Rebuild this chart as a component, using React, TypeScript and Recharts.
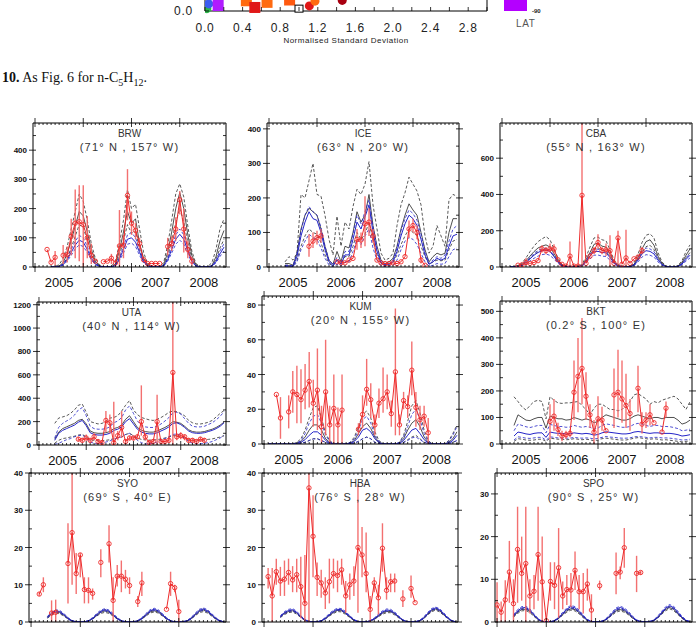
import React from 'react';
import { LineChart, Line, XAxis, YAxis, ErrorBar, ScatterChart, Scatter } from 'recharts';

const _ = null;

// month index 0 = Jan 2005 ... 47 = Dec 2008
const months = Array.from({ length: 48 }, (_v, i) => i);
const years = ['2005', '2006', '2007', '2008'];

// ---------- BRW ----------
const brwBlackHi = [_,_,_,_, 0,2,8,30,70,130,190,250,225,160,80,30, 8,0,0,2,20,80,160,265,200,215,130,50, 12,2,0,2,15,75,160,250,285,240,140,55, 12,2,0,2,15,60,130,165];
const brwBlack = [_,_,_,_, 0,0,3,15,45,90,140,190,175,120,60,20, 5,0,0,0,10,55,120,190,150,165,80,30, 8,0,0,0,8,50,120,200,255,200,110,40, 8,0,0,0,5,35,90,125];
const brwBlackLo = [_,_,_,_, 0,0,2,10,30,65,105,145,135,90,45,15, 3,0,0,0,6,40,90,145,115,125,60,22, 5,0,0,0,5,35,90,150,200,155,85,30, 5,0,0,0,3,25,65,95];
const brwBlueHi = [_,_,_,_, 0,0,2,10,30,60,88,108,100,70,35,12, 3,0,0,0,6,32,70,110,118,100,60,22, 5,0,0,0,5,30,70,110,130,110,65,24, 5,0,0,0,4,22,55,80];
const brwBlue = [_,_,_,_, 0,0,2,8,25,50,75,92,85,60,30,10, 2,0,0,0,5,28,60,95,100,85,50,18, 4,0,0,0,4,25,60,95,112,95,55,20, 4,0,0,0,3,18,45,68];
const brwBlueLo = [_,_,_,_, 0,0,1,6,20,40,62,76,70,50,24,8, 2,0,0,0,4,22,48,78,82,70,40,14, 3,0,0,0,3,20,48,78,92,78,45,16, 3,0,0,0,2,14,36,55];
// [month, value, low, high]
const brwObs = [[3,60],[4,16],[5,33,5,55],[7,40,10,75],[8,42,15,70],[9,105,40,165],[10,150,30,265],[11,155,20,280],[12,145,0,280],[13,100,30,175],[14,40,10,80],[15,20],[17,18],[18,20],[19,30,10,45],[20,14],[21,72,0,195],[22,75,30,110],[23,245,160,335],[24,150,110,190],[25,125,95,150],[26,80,60,100],[27,25],[28,12],[29,12],[30,12],[31,12],[33,70,40,100],[34,80,55,105],[35,130,90,170],[36,230,180,260],[37,130,50,200],[38,60,30,90],[39,20,5,35]];
const brwYTicks = [0,50,100,150,200,250,300,350,400,450];
const brwYLabels = [0,100,200,300,400];

// ---------- ICE ----------
const iceBlackHi = [_,_,_,_, 15,30,20,40,210,200,250,300, 210,205,150,80,35,147,60,130,110,175,225,210, 240,305,180,110,40,20,25,40,120,180,215,260, 240,220,180,90,40,60,120,90,60,195,210,205];
const iceBlack = [_,_,_,_, 10,10,5,40,110,150,170,160, 150,110,60,20,8,45,15,60,55,100,160,130, 150,210,120,60,20,10,15,25,60,110,150,183, 165,150,100,50,15,30,40,35,40,100,140,140];
const iceBlackLo = [_,_,_,_, 5,5,2,20,60,90,110,100, 95,70,35,10,3,20,8,30,30,60,100,80, 95,130,75,35,10,5,8,12,35,65,90,110, 100,90,60,30,8,15,20,18,20,50,75,80];
const iceBlueHi = [_,_,_,_, 5,5,3,40,105,150,175,160, 150,115,60,20,6,28,12,45,45,95,150,125, 160,195,115,55,15,7,10,20,55,105,140,165, 155,135,95,45,10,20,30,25,35,75,110,120];
const iceBlue = [_,_,_,_, 3,3,2,30,90,130,160,140, 135,100,50,15,4,20,8,35,35,80,130,110, 145,180,100,45,12,5,8,15,45,90,125,150, 140,120,80,35,8,15,25,20,25,60,90,95];
const iceBlueLo = [_,_,_,_, 1,1,0,15,50,75,95,85, 80,55,25,6,1,8,3,15,15,45,80,65, 90,110,55,20,4,1,2,5,20,50,75,85, 80,65,40,15,2,5,10,8,10,30,50,55];
const iceObs = [[10,60,30,95],[11,75,55,100],[12,85,65,105],[13,90,70,110],[17,15],[18,12],[19,12],[20,20],[21,25],[22,80,50,110],[23,78,55,100],[24,125,60,205],[25,130,90,170],[26,90,70,110],[27,20],[28,12],[29,10],[30,10],[31,12],[32,10],[33,15],[34,30],[35,110,85,135],[36,120,100,140],[37,100,80,120],[38,20,10,30],[39,5]];
const iceYTicks = [0,50,100,150,200,250,300,350,400];
const iceYLabels = [0,100,200,300,400];

// ---------- CBA ----------
const cbaBlackHi = [_,_, 0,3,8,22,50,85,115,140,155,168, 150,100,50,15,3,0,0,3,15,55,110,160, 165,150,145,95,40,15,3,0,3,22,70,135, 175,183,160,80,28,5,0,0,8,35,85,122];
const cbaBlack = [_,_, 0,2,5,15,35,60,85,105,115,122, 110,75,35,10,2,0,0,2,10,40,80,125, 132,115,110,70,30,10,2,0,2,15,50,100, 140,150,120,60,20,3,0,0,5,25,65,100];
const cbaBlackLo = [_,_, 0,1,4,12,28,48,68,84,92,98, 88,60,28,8,1,0,0,1,8,32,64,100, 105,92,88,56,24,8,1,0,1,12,40,80, 112,120,96,48,16,2,0,0,4,20,52,80];
const cbaBlueHi = [_,_, 0,1,4,12,30,52,75,92,100,105, 95,65,30,8,1,0,0,1,8,35,70,100, 98,92,90,60,25,8,1,0,1,12,45,85, 105,100,85,45,15,2,0,0,4,20,50,75];
const cbaBlue = [_,_, 0,1,3,10,25,45,65,80,90,95, 85,58,26,7,1,0,0,1,7,30,60,86, 86,80,78,52,22,7,1,0,1,10,38,72, 90,86,72,38,13,2,0,0,3,16,42,65];
const cbaBlueLo = [_,_, 0,1,2,7,18,33,48,60,68,72, 64,44,20,5,1,0,0,1,5,22,45,65, 66,60,58,38,16,5,1,0,1,7,28,55, 68,65,55,28,10,1,0,0,2,12,32,50];
const cbaObs = [[4,10],[5,12],[6,25,10,50],[7,20],[8,25],[9,35],[10,100,80,120],[11,90,70,110],[12,100,80,130],[13,100,75,125],[14,40],[15,15],[16,5],[17,60,0,140],[18,5],[19,5],[20,395,0,794],[21,20],[22,60],[23,90,70,110],[24,135,100,180],[25,90,70,110],[26,95,60,130],[27,90,0,175],[28,20],[29,160,0,200],[30,15],[31,50,0,205],[32,20],[33,45],[34,55],[35,90,70,110]];
const cbaYTicks = [0,100,200,300,400,500,600,700];
const cbaYLabels = [0,200,400,600];

// ---------- UTA ----------
const utaBlackHi = [_,_,_,_, 185,230,240,250,270,300,340,350, 280,200,190,180,185,200,230,235,250,290,340,380, 300,260,235,225,215,210,220,235,255,280,290,285, 270,250,210,190,180,180,185,195,210,240,270,295];
const utaBlack = [_,_,_,_, 50,110,140,155,170,185,210,220, 180,120,105,100,100,105,115,140,150,170,220,250, 200,150,125,115,110,110,120,135,150,170,200,195, 185,160,130,115,110,110,115,125,135,150,170,195];
const utaBlackLo = [_,_,_,_, 15,40,55,60,68,75,85,90, 70,45,40,38,38,40,45,55,60,68,90,100, 80,60,48,44,42,42,46,52,60,68,80,78, 74,62,50,44,42,42,44,48,52,60,68,80];
const utaBlueHi = [_,_,_,_, 60,150,185,205,225,255,300,320, 250,160,140,135,135,140,155,190,205,235,300,335, 270,205,170,155,150,150,160,180,205,235,275,280, 265,225,185,160,155,155,160,175,190,215,245,285];
const utaBlue = [_,_,_,_, 40,100,125,140,155,170,195,210, 165,105,90,85,85,90,100,125,135,155,200,225, 180,135,110,100,95,95,105,120,135,155,185,190, 175,150,120,105,100,100,105,115,125,140,160,190];
const utaBlueLo = [_,_,_,_, 5,15,30,45,55,70,80,85, 60,25,15,10,15,25,35,50,60,70,90,100, 70,40,20,10,10,15,25,40,55,70,90,95, 85,60,30,15,10,10,15,20,30,45,60,80];
const utaObs = [[10,50,30,70],[11,40,20,60],[12,60,40,90],[13,40,20,60],[14,70,40,100],[15,30,10,50],[16,20,0,40],[17,210,110,290],[18,190,100,260],[19,20,0,370],[20,80,40,120],[21,150,60,290],[22,30,10,50],[23,60,40,80],[24,60,40,80],[25,70,50,90],[26,200,80,510],[27,70,40,100],[28,20,0,40],[29,30,10,50],[30,200,0,430],[31,30,10,50],[32,30,10,50],[33,40,20,60],[34,620,0,1223],[35,70,40,100],[36,80,50,110],[37,70,40,90],[38,40,20,60],[39,40,20,60],[40,30,10,50],[41,50,30,70],[42,40,20,60]];
const utaYTicks = [0,100,200,300,400,500,600,700,800,900,1000,1100,1200];
const utaYLabels = [0,200,400,600,800,1000,1200];

// ---------- KUM ----------
const kumBlackHi = [_, 0,0,0,0,0,0,0,1,3,8,15, 21,22,15,6,2,0,0,0,0,1,4,10, 17,19,15,7,2,0,0,0,0,1,5,13, 22,25,18,8,2,0,0,0,0,2,6,11];
const kumBlack = [_, 0,0,0,0,0,0,0,0.5,1.5,4,8, 11,11,8,3,1,0,0,0,0,0.5,2,6, 10,12,9,4,1,0,0,0,0,0.5,3,8, 12,14,10,4,1,0,0,0,0,1,3,7];
const kumBlackLo = [_, 0,0,0,0,0,0,0,0,0.5,1,2, 3,3,2,1,0.3,0,0,0,0,0.2,0.5,1.5, 3,4,3,1,0.3,0,0,0,0,0.2,1,2.5, 4,5,3,1,0.3,0,0,0,0,0.3,1,2];
const kumBlueHi = [_, 0,0,0,0,0,0,0,0.5,2,6,12, 16,17,12,5,1.5,0,0,0,0,1,3,8, 14,16,12,5,1.5,0,0,0,0,1,4,10, 17,20,14,6,1.5,0,0,0,0,1.5,5,10];
const kumBlue = [_, 0,0,0,0,0,0,0,0.3,1,2.5,5, 7,7,5,2,0.5,0,0,0,0,0.3,1.5,4, 8,9,7,3,0.8,0,0,0,0,0.3,2,5, 8,9,6,2.5,0.6,0,0,0,0,0.5,2,5];
const kumBlueLo = [_, 0,0,0,0,0,0,0,0.1,0.3,1,2, 3,3,2,0.8,0.2,0,0,0,0,0.1,0.5,1.5, 3,4,3,1,0.3,0,0,0,0,0.1,0.8,2, 3.5,4,2.5,1,0.2,0,0,0,0,0.2,0.8,2];
const kumObs = [[3,28.5],[4,15,3,27],[6,18.5,9,28],[7,30,18,42],[8,28.5,12,45],[9,25.5,12,43],[10,31,20,46],[11,36,21,53],[12,23.5,10,37],[13,31,8,55],[14,10,0,22],[15,30,5,60],[16,11,0,22],[17,20.5,0,40],[18,11,0,21],[19,19.5,0,40],[23,8.5,5,12],[24,17,9,28],[25,31.5,22,49],[26,25.5,15,35],[27,11,5,17],[28,23.5,15,32],[29,26,18,44],[30,30,20,40],[31,17.5,10,25],[32,41.5,5,78],[33,11,5,17],[34,25,20,30],[35,21.5,15,28],[36,42.5,28,59],[37,21,10,30],[38,14,8,22],[39,16,10,22],[40,6.5,0,15]];
const kumYTicks = [0,10,20,30,40,50,60,70,80];
const kumYLabels = [0,20,40,60,80];

// ---------- BKT ----------
const bktBlackHi = [_,_,_, 178,160,140,128,145,160,165,160,95, 178,165,155,153,155,155,158,160,145,130,110,135, 150,150,140,130,130,125,130,145,160,185,190,180, 170,150,160,155,165,170,175,180,170,150,130,160];
const bktBlack = [_,_,_, 70,110,100,90,88,95,100,100,60, 105,100,95,95,90,92,100,95,90,95,90,80, 85,100,110,105,100,95,90,90,95,105,110,105, 100,95,100,100,95,100,100,100,90,75,80,90];
const bktBlackLo = [_,_,_, 10,20,18,15,14,15,18,18,10, 22,20,18,18,16,17,20,18,16,18,16,12, 15,20,22,20,18,16,15,15,18,22,24,22, 20,18,20,18,15,16,14,12,10,8,10,12];
const bktBlueHi = [_,_,_, 50,75,70,65,62,66,70,70,42, 74,70,66,66,63,64,70,66,63,66,63,56, 60,70,76,73,70,66,63,63,66,74,78,75, 70,66,70,70,66,66,65,62,58,50,52,56];
const bktBlue = [_,_,_, 30,45,42,38,36,40,42,42,25, 45,42,40,40,38,38,42,40,38,40,38,33, 36,42,46,44,42,40,38,38,40,45,47,45, 42,40,42,42,40,40,40,38,35,30,32,35];
const bktBlueLo = [_,_,_, 15,27,25,22,21,23,25,25,14, 27,25,23,23,22,22,25,23,22,23,22,19, 21,25,28,26,25,23,22,22,23,27,28,27, 25,23,25,25,23,23,22,20,18,15,16,18];
const bktObs = [[12,85,15,150],[13,105,50,170],[14,55,30,80],[15,30,10,50],[16,35,20,50],[17,40,25,55],[18,195,90,315],[19,255,120,400],[20,285,150,475],[21,180,90,270],[22,110,60,150],[23,45,0,90],[24,95,20,180],[25,90,50,140],[26,50],[28,185,60,285],[29,195,100,355],[30,170,80,315],[31,145,60,265],[32,115,50,170],[34,210,120,295],[35,75,40,120],[36,90,60,120],[37,110,70,150],[38,80],[40,45],[41,135,100,160]];
const bktYTicks = [0,50,100,150,200,250,300,350,400,450,500];
const bktYLabels = [0,100,200,300,400,500];

// ---------- SYO ----------
const syoBlackHi = [_,_,_,_, 1.4,2.5,3.0,2.8,2.0,1.0,0.3,0.05, 0,0.05,0.3,1.0,2.0,2.9,3.3,2.9,2.0,1.0,0.3,0.05, 0,0.05,0.3,1.0,2.0,3.0,3.3,3.0,2.0,1.0,0.3,0.05, 0,0.05,0.3,1.0,2.1,3.1,3.5,3.0,2.0,1.0,0.3,0.05];
const syoBlack = [_,_,_,_, 1.2,2.2,2.7,2.5,1.8,0.9,0.3,0.05, 0,0.05,0.3,0.9,1.8,2.6,3.0,2.6,1.8,0.9,0.3,0.05, 0,0.05,0.3,0.9,1.8,2.7,3.0,2.7,1.8,0.9,0.3,0.05, 0,0.05,0.3,0.9,1.9,2.8,3.2,2.7,1.8,0.9,0.3,0.05];
const syoBlackLo = [_,_,_,_, 1.0,1.9,2.4,2.2,1.6,0.8,0.2,0, 0,0,0.2,0.8,1.6,2.3,2.6,2.3,1.6,0.8,0.2,0, 0,0,0.2,0.8,1.6,2.4,2.7,2.4,1.6,0.8,0.2,0, 0,0,0.2,0.8,1.7,2.5,2.8,2.4,1.6,0.8,0.2,0];
const syoBlueHi = [_,_,_,_, 1.5,2.7,3.3,3.1,2.3,1.2,0.4,0.1, 0,0.1,0.4,1.2,2.3,3.2,3.6,3.2,2.3,1.2,0.4,0.1, 0,0.1,0.4,1.2,2.3,3.3,3.7,3.3,2.3,1.2,0.4,0.1, 0,0.1,0.4,1.2,2.4,3.4,3.8,3.3,2.3,1.2,0.4,0.1];
const syoBlue = [_,_,_,_, 1.3,2.4,3.0,2.8,2.0,1.0,0.3,0.05, 0,0.05,0.3,1.0,2.0,2.9,3.3,2.9,2.0,1.0,0.3,0.05, 0,0.05,0.3,1.0,2.0,3.0,3.4,3.0,2.0,1.0,0.3,0.05, 0,0.05,0.3,1.0,2.1,3.1,3.5,3.0,2.0,1.0,0.3,0.05];
const syoBlueLo = [_,_,_,_, 1.1,2.2,2.7,2.5,1.8,0.8,0.2,0, 0,0,0.2,0.8,1.7,2.6,3.0,2.6,1.8,0.8,0.2,0, 0,0,0.2,0.8,1.7,2.7,3.1,2.7,1.8,0.8,0.2,0, 0,0,0.2,0.8,1.8,2.8,3.2,2.7,1.8,0.8,0.2,0];
const syoObs = [[2,7.5,7,8],[3,10,8,12],[5,2.4,0,5.8],[6,2.6,0,6],[9,15.7,5,26.5],[10,24,10,40],[11,13,7.5,18.5],[12,18,12,18.5],[13,8.7,5,12],[14,8.5,5,12],[15,7.7,6,9],[17,16,12,19.5],[19,21,16,26],[20,5.8,0,12],[21,12.3,9.5,15.3],[22,12.3,8,16.5],[23,11.5,9,14],[24,9.8,7.5,12],[26,5.5,4,7],[27,10.5,7,13.5],[33,3.4],[34,10.3,7,13.5],[35,9.2,8,10],[36,2.8,0,6]];
const syoYTicks = [0,5,10,15,20,25,30,35,40];
const syoYLabels = [0,10,20,30,40];

// ---------- HBA ----------
const hbaBlackHi = [_,_,_,_, 1.5,2.5,3.0,3.2,2.5,1.5,0.6,0.1, 0,0.05,0.3,1.0,1.9,2.8,3.3,3.2,2.4,1.5,0.6,0.1, 0,0.05,0.3,0.9,1.7,2.6,3.0,3.0,2.3,1.4,0.5,0.1, 0,0.05,0.3,1.0,2.1,3.2,3.7,3.2,2.1,1.1,0.3,0.05];
const hbaBlack = [_,_,_,_, 1.4,2.3,2.8,3.0,2.4,1.4,0.5,0.1, 0,0.05,0.3,0.9,1.8,2.6,3.1,3.0,2.3,1.4,0.5,0.1, 0,0.05,0.3,0.8,1.6,2.4,2.8,2.8,2.2,1.3,0.5,0.1, 0,0.05,0.3,0.9,2.0,3.0,3.5,3.0,2.0,1.0,0.3,0.05];
const hbaBlackLo = [_,_,_,_, 1.2,2.0,2.5,2.7,2.1,1.2,0.4,0.05, 0,0,0.2,0.8,1.6,2.3,2.8,2.7,2.0,1.2,0.4,0.05, 0,0,0.2,0.7,1.4,2.1,2.5,2.5,1.9,1.1,0.4,0.05, 0,0,0.2,0.8,1.8,2.7,3.2,2.7,1.8,0.9,0.2,0];
const hbaBlueHi = [_,_,_,_, 1.7,2.8,3.4,3.6,2.9,1.7,0.7,0.15, 0,0.1,0.4,1.2,2.3,3.2,3.7,3.6,2.8,1.7,0.7,0.15, 0,0.1,0.4,1.1,2.1,3.0,3.5,3.4,2.7,1.6,0.6,0.15, 0,0.1,0.4,1.2,2.5,3.6,4.0,3.6,2.5,1.3,0.4,0.1];
const hbaBlue = [_,_,_,_, 1.5,2.5,3.1,3.3,2.6,1.5,0.6,0.1, 0,0.05,0.3,1.0,2.0,2.9,3.4,3.3,2.5,1.5,0.6,0.1, 0,0.05,0.3,0.9,1.8,2.7,3.2,3.1,2.4,1.4,0.5,0.1, 0,0.05,0.3,1.0,2.2,3.3,3.8,3.3,2.2,1.1,0.3,0.05];
const hbaBlueLo = [_,_,_,_, 1.3,2.2,2.8,3.0,2.3,1.3,0.5,0.05, 0,0,0.2,0.8,1.7,2.6,3.1,3.0,2.2,1.3,0.5,0.05, 0,0,0.2,0.7,1.5,2.4,2.9,2.8,2.1,1.2,0.4,0.05, 0,0,0.2,0.8,1.9,3.0,3.5,3.0,1.9,0.9,0.2,0];
const hbaObs = [[1,12.2,9,14.5],[2,7,0,14.5],[3,13.5,10,17],[4,11,7,14.8],[5,11.5,7,16.5],[6,13.3,10,17],[7,11.3,8,15],[8,12.7,8,17],[9,9.5,1,17.5],[10,5,0,18],[11,36,0,40],[12,23,12,34],[13,12,7,16],[14,10.5,6.5,14],[15,7.8,3.5,12],[16,10.8,5,17],[17,13,9,17],[18,12.5,8,16.5],[19,14,10,17],[20,7,2.5,11],[21,10,6,13],[22,11,7,15],[23,20,2.5,37],[24,18,12,25.5],[25,13,8,24],[26,3.4,0,7],[27,10.5,8,12],[28,6.5,2,10],[29,19.8,13.5,26.5],[30,8.5,6,12],[31,10.8,8,13],[32,11,8,13],[34,6.2,4,8.5],[36,9,6.5,12.5],[37,5.2]];
const hbaYTicks = [0,5,10,15,20,25,30,35,40];
const hbaYLabels = [0,10,20,30,40];

// ---------- SPO ----------
const spoBlackHi = [_,_,_,_, 1.4,2.5,3.1,3.2,2.7,1.6,0.7,0.1, 0,0.05,0.3,1.0,1.9,2.8,3.3,3.1,2.4,1.3,0.5,0.1, 0,0.05,0.3,1.0,1.9,2.8,3.1,2.8,2.0,1.1,0.4,0.1, 0,0.05,0.3,1.0,2.0,3.1,3.6,3.2,2.2,1.1,0.4,0.05];
const spoBlack = [_,_,_,_, 1.3,2.3,2.9,3.0,2.5,1.5,0.6,0.1, 0,0.05,0.3,0.9,1.8,2.6,3.1,2.9,2.2,1.2,0.4,0.1, 0,0.05,0.3,0.9,1.8,2.6,2.9,2.6,1.9,1.0,0.3,0.1, 0,0.05,0.3,0.9,1.9,2.9,3.4,3.0,2.0,1.0,0.3,0.05];
const spoBlackLo = [_,_,_,_, 1.1,2.0,2.6,2.7,2.2,1.3,0.5,0.05, 0,0,0.2,0.8,1.6,2.3,2.8,2.6,1.9,1.0,0.3,0.05, 0,0,0.2,0.8,1.6,2.3,2.6,2.3,1.7,0.9,0.3,0.05, 0,0,0.2,0.8,1.7,2.6,3.1,2.7,1.8,0.9,0.2,0];
const spoBlueHi = [_,_,_,_, 1.7,2.9,3.6,3.7,3.1,1.9,0.8,0.15, 0,0.1,0.4,1.2,2.3,3.3,3.9,3.6,2.8,1.6,0.6,0.15, 0,0.1,0.4,1.2,2.3,3.3,3.7,3.3,2.5,1.4,0.5,0.15, 0,0.1,0.4,1.2,2.4,3.5,4.1,3.7,2.6,1.4,0.5,0.1];
const spoBlue = [_,_,_,_, 1.5,2.6,3.3,3.4,2.8,1.7,0.7,0.1, 0,0.05,0.3,1.0,2.0,3.0,3.6,3.3,2.5,1.4,0.5,0.1, 0,0.05,0.3,1.0,2.0,3.0,3.4,3.0,2.2,1.2,0.4,0.1, 0,0.05,0.3,1.0,2.1,3.2,3.8,3.4,2.3,1.2,0.4,0.05];
const spoBlueLo = [_,_,_,_, 1.3,2.3,3.0,3.1,2.5,1.5,0.6,0.05, 0,0,0.2,0.8,1.7,2.7,3.3,3.0,2.2,1.2,0.4,0.05, 0,0,0.2,0.8,1.7,2.7,3.1,2.7,1.9,1.0,0.3,0.05, 0,0,0.2,0.8,1.8,2.9,3.5,3.1,2.0,1.0,0.3,0];
const spoObs = [[0,4,0,9.3],[1,2.3,0,4.8],[2,5.2,0,9.8],[3,11.7,4.5,19],[4,4.3,0,10],[5,17,4.5,27],[6,11.4,5,20],[7,13.7,0,27],[8,6.1,2,10],[9,7.2,3,11],[10,15.8,5,27],[11,9.4,0,20],[12,0.3],[13,9.5,5,14],[14,8.6,3,14],[15,12.7,1,22],[16,6.1,3,9.5],[17,7.6,4,11],[18,7.5,3.5,11.5],[19,12.1,7.5,16.5],[20,7.1,3,11],[21,7.1,2,11.5],[22,8.9,5,12.5],[23,2.8,0,6.5],[25,8.5,7.5,9.7],[29,11.4,6.5,16.3],[30,11.7,10,13],[31,17.4,12.7,22],[34,11.4,7,15.5],[35,11.6,11,12]];
const spoYTicks = [0,5,10,15,20,25,30];
const spoYLabels = [0,10,20,30];

// ---------- Taylor-diagram strip at the top ----------
const sdTicks = [0,0.2,0.4,0.6,0.8,1.0,1.2,1.4,1.6,1.8,2.0,2.2,2.4,2.6,2.8,3.0];
const sdLabels = ['0.0','0.4','0.8','1.2','1.6','2.0','2.4','2.8'];
const sdX = [0.02, 0.04, 0.14, 0.44, 0.53, 0.66, 0.90, 1.0, 1.11, 1.17, 1.46];
const sdY = [0.03, 0.09, 0.07, 0.13, 0.045, 0.11, 0.14, 0.03, 0.065, 0.125, 0.135];
const sdColor = ['#2db84a', '#3c5cf0', '#b01cff', '#ff6a10', '#e01818', '#ff6a10', '#ff5a10', '#000000', '#e01818', '#ff6a10', '#a80010'];
const sdKind = ['circle', 'circle', 'square', 'square', 'square', 'square', 'square', 'open', 'circle', 'circle', 'circle'];

const RED = '#ee2a2a';
const RED_BAR = '#f26060';
const BLACK = '#222222';
const BLUE = '#2424c8';
const SANS = '"Liberation Sans", Arial, Helvetica, sans-serif';

const panels = [
  { name: 'BRW', coords: '(71° N , 157° W)', box: [33, 123, 226, 267], yMax: 493, yTicks: brwYTicks, yLabels: brwYLabels, obs: brwObs, bHi: brwBlackHi, b: brwBlack, bLo: brwBlackLo, uHi: brwBlueHi, u: brwBlue, uLo: brwBlueLo, showYears: true },
  { name: 'ICE', coords: '(63° N , 20° W)', box: [267, 123, 459, 267], yMax: 417, yTicks: iceYTicks, yLabels: iceYLabels, obs: iceObs, bHi: iceBlackHi, b: iceBlack, bLo: iceBlackLo, uHi: iceBlueHi, u: iceBlue, uLo: iceBlueLo, showYears: true },
  { name: 'CBA', coords: '(55° N , 163° W)', box: [500, 123, 692, 267], yMax: 794, yTicks: cbaYTicks, yLabels: cbaYLabels, obs: cbaObs, bHi: cbaBlackHi, b: cbaBlack, bLo: cbaBlackLo, uHi: cbaBlueHi, u: cbaBlue, uLo: cbaBlueLo, showYears: true },
  { name: 'UTA', coords: '(40° N , 114° W)', box: [37, 302, 226, 445], yMax: 1223, yTicks: utaYTicks, yLabels: utaYLabels, obs: utaObs, bHi: utaBlackHi, b: utaBlack, bLo: utaBlackLo, uHi: utaBlueHi, u: utaBlue, uLo: utaBlueLo, showYears: true },
  { name: 'KUM', coords: '(20° N , 155° W)', box: [262, 296, 459, 444], yMax: 85.2, yTicks: kumYTicks, yLabels: kumYLabels, obs: kumObs, bHi: kumBlackHi, b: kumBlack, bLo: kumBlackLo, uHi: kumBlueHi, u: kumBlue, uLo: kumBlueLo, showYears: true },
  { name: 'BKT', coords: '(0.2° S , 100° E)', box: [500, 301, 692, 444], yMax: 539, yTicks: bktYTicks, yLabels: bktYLabels, obs: bktObs, bHi: bktBlackHi, b: bktBlack, bLo: bktBlackLo, uHi: bktBlueHi, u: bktBlue, uLo: bktBlueLo, showYears: true },
  { name: 'SYO', coords: '(69° S , 40° E)', box: [29, 473, 226, 622], yMax: 40, yTicks: syoYTicks, yLabels: syoYLabels, obs: syoObs, bHi: syoBlackHi, b: syoBlack, bLo: syoBlackLo, uHi: syoBlueHi, u: syoBlue, uLo: syoBlueLo, showYears: false },
  { name: 'HBA', coords: '(76° S , 28° W)', box: [262, 473, 458, 622], yMax: 40, yTicks: hbaYTicks, yLabels: hbaYLabels, obs: hbaObs, bHi: hbaBlackHi, b: hbaBlack, bLo: hbaBlackLo, uHi: hbaBlueHi, u: hbaBlue, uLo: hbaBlueLo, showYears: false },
  { name: 'SPO', coords: '(90° S , 25° W)', box: [495, 473, 692, 622], yMax: 34.9, yTicks: spoYTicks, yLabels: spoYLabels, obs: spoObs, bHi: spoBlackHi, b: spoBlack, bLo: spoBlackLo, uHi: spoBlueHi, u: spoBlue, uLo: spoBlueLo, showYears: false },
];

const modelLines: Array<[string, string, string | undefined, number]> = [
  ['bHi', BLACK, '3 2', 0.75],
  ['bLo', BLACK, '3 2', 0.75],
  ['b', BLACK, undefined, 0.8],
  ['uHi', BLUE, '3 2', 0.8],
  ['uLo', BLUE, '3 2', 0.8],
  ['u', BLUE, undefined, 1],
];

const bottomTick = (showYears: boolean) => (props: any) => {
  const { x, y, payload } = props;
  const m = payload.value;
  const major = m % 12 === 0;
  return (
    <g>
      <line x1={x} x2={x} y1={major ? y - 4 : y - 2} y2={major ? y + 5 : y} stroke="#000" strokeWidth={0.8} />
      {showYears && m % 12 === 6 && (
        <text x={x} y={y + 20} textAnchor="middle" fontSize={13} fontFamily={SANS} fill="#111">
          {years[Math.floor(m / 12)]}
        </text>
      )}
    </g>
  );
};

const topTick = (props: any) => {
  const { x, y, payload } = props;
  const major = payload.value % 12 === 0;
  return <line x1={x} x2={x} y1={major ? y - 5 : y} y2={major ? y + 4 : y + 2} stroke="#000" strokeWidth={0.8} />;
};

const leftTick = (labels: number[]) => (props: any) => {
  const { x, y, payload } = props;
  const v = payload.value;
  const major = labels.includes(v);
  return (
    <g>
      <line x1={major ? x - 4 : x} x2={x + 3} y1={y} y2={y} stroke="#000" strokeWidth={0.8} />
      {major && (
        <text x={x - 6} y={y + 3} textAnchor="end" fontSize={8} fontWeight="bold" fontFamily={SANS} fill="#111">
          {v}
        </text>
      )}
    </g>
  );
};

const rightTick = (labels: number[]) => (props: any) => {
  const { x, y, payload } = props;
  const major = labels.includes(payload.value);
  return <line x1={x - 3} x2={major ? x + 4 : x} y1={y} y2={y} stroke="#000" strokeWidth={0.8} />;
};

function Panel({ p }: { p: any }) {
  const [L, T, R, B] = p.box;
  const plotW = R - L;
  const plotH = B - T;
  const rows = months.map((m) => {
    const o = p.obs.find((q: number[]) => q[0] === m);
    return {
      m,
      obs: o ? o[1] : null,
      err: o && o.length > 2 ? [o[1] - o[2], o[3] - o[1]] : null,
      bHi: p.bHi[m], b: p.b[m], bLo: p.bLo[m],
      uHi: p.uHi[m], u: p.u[m], uLo: p.uLo[m],
    };
  });
  return (
    <div style={{ position: 'absolute', left: L - 40, top: T - 11 }}>
      <LineChart width={plotW + 51} height={plotH + 39} data={rows} margin={{ top: 10, right: 10, left: 0, bottom: 0 }}>
        <XAxis dataKey="m" type="number" domain={[-0.5, 47.5]} ticks={months} interval={0} allowDataOverflow
          height={28} tickLine={false} tickSize={0} tickMargin={0} tick={bottomTick(p.showYears)} axisLine={{ stroke: '#000' }} />
        <XAxis xAxisId="top" orientation="top" dataKey="m" type="number" domain={[-0.5, 47.5]} ticks={months} interval={0} allowDataOverflow
          height={1} tickLine={false} tickSize={0} tickMargin={0} tick={topTick} axisLine={{ stroke: '#000' }} />
        <YAxis type="number" domain={[0, p.yMax]} ticks={p.yTicks} interval={0} allowDataOverflow width={40}
          tickLine={false} tickSize={0} tickMargin={0} tick={leftTick(p.yLabels)} axisLine={{ stroke: '#000' }} />
        <YAxis yAxisId="r" orientation="right" type="number" domain={[0, p.yMax]} ticks={p.yTicks} interval={0} allowDataOverflow width={1}
          tickLine={false} tickSize={0} tickMargin={0} tick={rightTick(p.yLabels)} axisLine={{ stroke: '#000' }} />
        {modelLines.map(([k, c, d, w]) => (
          <Line key={k} type="linear" dataKey={k} stroke={c} strokeWidth={w} strokeDasharray={d}
            dot={false} activeDot={false} isAnimationActive={false} />
        ))}
        <Line type="linear" dataKey="obs" stroke={RED} strokeWidth={1}
          dot={{ r: 2.2, stroke: RED, strokeWidth: 0.9, fill: 'none' }} activeDot={false} isAnimationActive={false}>
          <ErrorBar dataKey="err" width={0} stroke={RED_BAR} strokeWidth={1.4} strokeOpacity={0.9} direction="y" isAnimationActive={false} />
        </Line>
      </LineChart>
      <div style={{ position: 'absolute', left: 40, width: plotW, top: 16, textAlign: 'center', fontFamily: SANS, fontSize: 10, lineHeight: '12px', color: '#333' }}>
        {p.name}
      </div>
      <div style={{ position: 'absolute', left: 40, width: plotW, top: 29, textAlign: 'center', fontFamily: SANS, fontSize: 11, letterSpacing: 1.2, lineHeight: '13px', color: '#333', whiteSpace: 'nowrap' }}>
        {p.coords}
      </div>
    </div>
  );
}

const sdTick = (props: any) => {
  const { x, y, payload } = props;
  const v = payload.value;
  const label = sdLabels.find((s) => Math.abs(parseFloat(s) - v) < 1e-6);
  return (
    <g>
      <line x1={x} x2={x} y1={y - 4} y2={y} stroke="#000" strokeWidth={0.8} />
      {label && (
        <text x={x} y={y + 21} textAnchor="middle" fontSize={12} letterSpacing={0.8} fontFamily={SANS} fill="#222">{label}</text>
      )}
    </g>
  );
};

const zeroTick = (props: any) => {
  const { x, y } = props;
  return (
    <g>
      <line x1={x} x2={x + 4} y1={y} y2={y} stroke="#000" strokeWidth={0.8} />
      <text x={x - 12} y={y + 4} textAnchor="end" fontSize={12} letterSpacing={0.8} fontFamily={SANS} fill="#222">0.0</text>
    </g>
  );
};

const markerShape = (props: any) => {
  const { cx, cy, payload } = props;
  if (payload.kind === 'square') return <rect x={cx - 5.5} y={cy - 5.5} width={11} height={11} fill={payload.color} />;
  if (payload.kind === 'open') return <rect x={cx - 4} y={cy - 3.5} width={8} height={7} fill="#fff" stroke="#000" strokeWidth={1} />;
  return <circle cx={cx} cy={cy} r={4.5} fill={payload.color} />;
};

export default function App() {
  const sdPoints = sdX.map((x, i) => ({ x, y: sdY[i], color: sdColor[i], kind: sdKind[i] }));
  return (
    <div style={{ position: 'absolute', left: 0, top: 0, width: 699, height: 630, overflow: 'hidden', background: '#fff' }}>
      <div style={{ position: 'absolute', left: 0, top: 0 }}>
        <ScatterChart width={520} height={47} margin={{ top: 0, right: 32, left: 0, bottom: 0 }}>
          <XAxis dataKey="x" type="number" domain={[0, 3]} ticks={sdTicks} interval={0} allowDataOverflow height={36}
            tickLine={false} tickSize={0} tickMargin={0} tick={sdTick} axisLine={{ stroke: '#000' }} />
          <YAxis dataKey="y" type="number" domain={[0, 0.11]} ticks={[0]} interval={0} width={205}
            tickLine={false} tickSize={0} tickMargin={0} tick={zeroTick} axisLine={{ stroke: '#000' }} />
          <YAxis yAxisId="r" orientation="right" type="number" domain={[0, 0.11]} width={1} tick={false} tickLine={false} axisLine={{ stroke: '#000' }} />
          <Scatter data={sdPoints} isAnimationActive={false} shape={markerShape} />
        </ScatterChart>
      </div>
      <div style={{ position: 'absolute', left: 246, width: 200, top: 36, textAlign: 'center', fontFamily: SANS, fontSize: 8, letterSpacing: 0.5, lineHeight: '10px', color: '#222', whiteSpace: 'nowrap' }}>
        Normalised Standard Deviation
      </div>
      <div style={{ position: 'absolute', left: 504, top: 0, width: 23, height: 11, background: '#b400ff' }} />
      <div style={{ position: 'absolute', left: 532, top: 7, fontFamily: SANS, fontSize: 6, fontWeight: 'bold', lineHeight: '8px', color: '#222' }}>-90</div>
      <div style={{ position: 'absolute', left: 516, top: 18, fontFamily: SANS, fontSize: 10, letterSpacing: 0.6, lineHeight: '12px', color: '#555' }}>LAT</div>
      <div style={{ position: 'absolute', left: 2, top: 70, fontFamily: '"Liberation Serif", "Times New Roman", serif', fontSize: 14, lineHeight: '16px', color: '#111', whiteSpace: 'nowrap' }}>
        <b>10.</b> As Fig. 6 for n-C<sub style={{ fontSize: 10, lineHeight: 0 }}>5</sub>H<sub style={{ fontSize: 10, lineHeight: 0 }}>12</sub>.
      </div>
      {panels.map((p) => (
        <Panel key={p.name} p={p} />
      ))}
    </div>
  );
}
